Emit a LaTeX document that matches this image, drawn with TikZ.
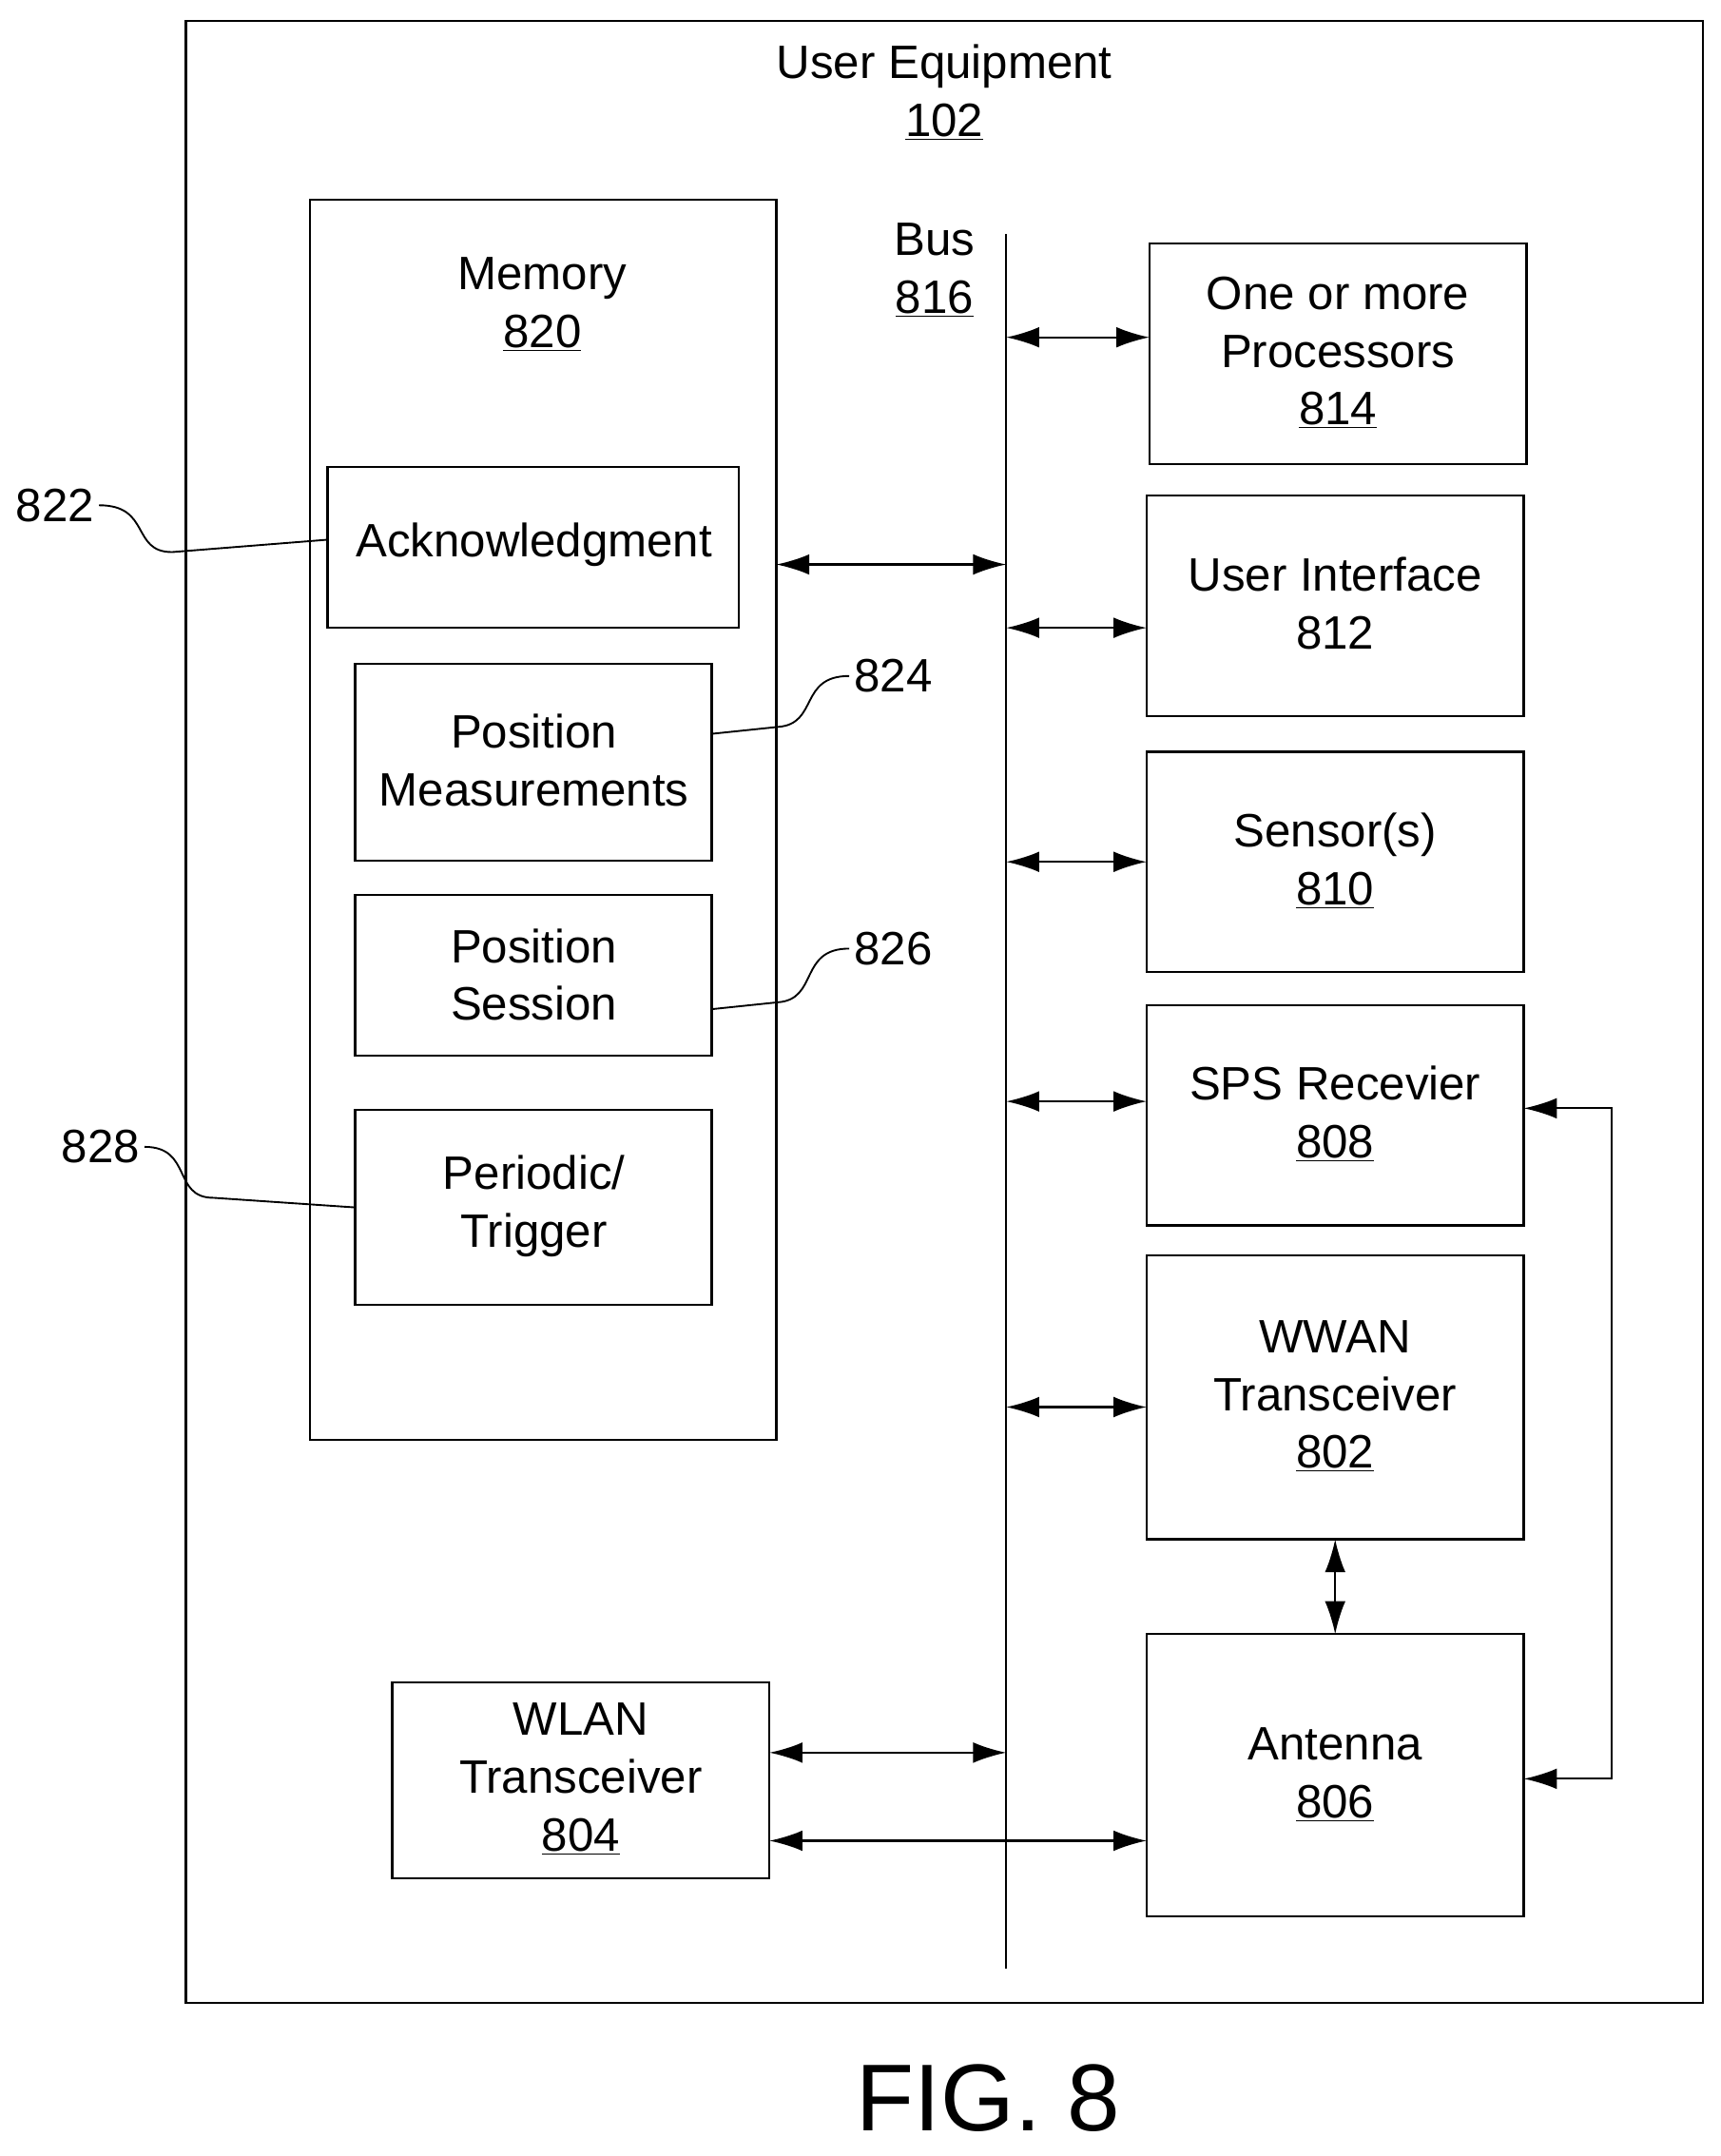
\documentclass[tikz,border=0pt]{standalone}
\usepackage{fontspec}
\setmainfont{Liberation Sans}
\usetikzlibrary{arrows.meta}
\begin{document}
\begin{tikzpicture}[x=1pt,y=-1pt,
  box/.style={draw,line width=1.5pt},
  lbl/.style={font=\fontsize{34}{42}\selectfont,align=center},
  arr/.style={line width=1.5pt,{Latex[length=24pt,width=15pt]}-{Latex[length=24pt,width=15pt]}},
  lead/.style={line width=1.3pt}]
\useasboundingbox (0,0) rectangle (1250,1566);
\draw[box] (135,15) rectangle (1237,1455);
\node[lbl] (ue) at (686,67) {User Equipment\\\underline{102}};
\draw[box] (225,145) rectangle (564,1046);
\node[lbl] (mem) at (394,221) {Memory\\\underline{820}};
\draw[box] (238,339) rectangle (537,456);
\node[lbl] (ack) at (388,396) {Acknowledgment};
\draw[box] (258,482) rectangle (517,625);
\node[lbl] (pm) at (388,552) {Position\\Measurements};
\draw[box] (258,650) rectangle (517,767);
\node[lbl] (ps) at (388,708) {Position\\Session};
\draw[box] (258,806) rectangle (517,948);
\node[lbl] (pt) at (388,876) {Periodic/\\Trigger};
\draw[line width=1.5pt] (731,170) coordinate (bt) -- (731,1430) coordinate (bb);
\node[lbl] (bus) at (679,196) {Bus\\\underline{816}};
\draw[box] (835,177) rectangle (1109,337);
\node[lbl] (pr) at (972,256) {One or more\\Processors\\\underline{814}};
\draw[box] (833,360) rectangle (1107,520);
\node[lbl] (ui) at (970,438) {User Interface\\812};
\draw[box] (833,546) rectangle (1107,706);
\node[lbl] (se) at (970,625) {Sensor(s)\\\underline{810}};
\draw[box] (833,730) rectangle (1107,890);
\node[lbl] (sps) at (970,809) {SPS Recevier\\\underline{808}};
\draw[box] (833,912) rectangle (1107,1118);
\node[lbl] (ww) at (970,1014) {WWAN\\Transceiver\\\underline{802}};
\draw[box] (833,1187) rectangle (1107,1392);
\node[lbl] (an) at (970,1289) {Antenna\\\underline{806}};
\draw[box] (285,1222) rectangle (559,1364);
\node[lbl] (wl) at (422,1292) {WLAN\\Transceiver\\\underline{804}};
\draw[arr] (731,245) -- (835,245);
\draw[arr] (564,410) -- (731,410);
\draw[arr] (731,456) -- (833,456);
\draw[arr] (731,626) -- (833,626);
\draw[arr] (731,800) -- (833,800);
\draw[arr] (731,1022) -- (833,1022);
\draw[arr] (970,1118) -- (970,1187);
\draw[arr] (1107,805) -- (1171,805) -- (1171,1292) -- (1107,1292);
\draw[arr] (559,1273) -- (731,1273);
\draw[arr] (559,1337) -- (833,1337);
\node[lbl,anchor=east] (l822) at (72,367) {822};
\draw[lead] (l822.east) .. controls (110,367) and (95,401) .. (125,401) -- (238,392);
\node[lbl,anchor=west] (l824) at (617,491) {824};
\draw[lead] (517,533) -- (565,528) .. controls (595,526) and (580,491) .. (l824.west);
\node[lbl,anchor=west] (l826) at (617,689) {826};
\draw[lead] (517,733) -- (565,728) .. controls (595,726) and (580,689) .. (l826.west);
\node[lbl,anchor=east] (l828) at (105,833) {828};
\draw[lead] (l828.east) .. controls (140,833) and (125,870) .. (155,870) -- (258,877);
\node[font=\fontsize{69}{74}\selectfont] (fig) at (718,1524) {FIG. 8};
\end{tikzpicture}
\end{document}
